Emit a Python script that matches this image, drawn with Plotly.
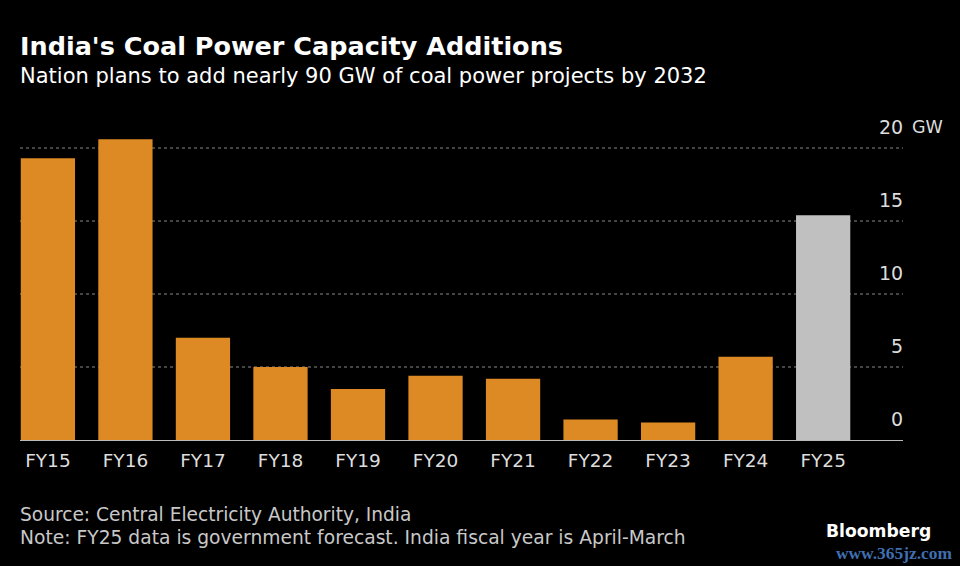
import plotly.graph_objects as go

categories = ["FY15","FY16","FY17","FY18","FY19","FY20","FY21","FY22","FY23","FY24","FY25"]
values = [19.3,20.6,7.0,5.0,3.5,4.4,4.2,1.4,1.2,5.7,15.4]
colors = ["#DD8A24"]*10 + ["#C0C0C0"]
ticks = [0,5,10,15,20]
ticktext = ["0","5","10","15","20"]
font = "DejaVu Sans"
L, R, T, B = 20, 57, 127, 126

fig = go.Figure(go.Bar(x=categories, y=values, marker_color=colors, marker_line_width=0, width=0.7))
fig.update_layout(
    width=960, height=566, paper_bgcolor="#000", plot_bgcolor="#000",
    margin=dict(l=L, r=R, t=T, b=B, autoexpand=False), showlegend=False,
    font=dict(family=font, color="#DDDDDD", size=18),
)
fig.update_xaxes(showgrid=False, showline=True, linecolor="#BBBBBB", linewidth=1, ticks="",
                 tickfont=dict(size=18.5, color="#DDDDDD"), range=[-0.36, 11.03], ticklabelstandoff=4)
fig.update_yaxes(range=[0, 21.44], showgrid=False, zeroline=False, showticklabels=False)
for t, tt in zip(ticks, ticktext):
    if t > 0:
        fig.add_shape(type="line", xref="paper", x0=0, x1=1, yref="y", y0=t, y1=t,
                      line=dict(color="#8A8A8A", width=1, dash="dot"), layer="below")
    fig.add_annotation(xref="paper", x=1, yref="y", y=t, yshift=21, text=tt, showarrow=False,
                       xanchor="right", xshift=2, font=dict(size=19, color="#DDDDDD"))
H = 566-T-B; W = 960-L-R
def px(x, y):
    return (x-L)/W, (566-B-y)/H
def label(x, y, text, size, color="#FFFFFF", bold=False, family=font):
    a, b = px(x, y)
    fig.add_annotation(xref="paper", yref="paper", x=a, y=b, xanchor="left", yanchor="middle", showarrow=False,
                       xshift=-2, text=f"<b>{text}</b>" if bold else text, font=dict(size=size, color=color, family=family))
label(912, 127, "GW", 17.5, "#DDDDDD")
label(20, 46, "India's Coal Power Capacity Additions", 25.5, bold=True)
label(20, 76, "Nation plans to add nearly 90 GW of coal power projects by 2032", 21)
label(20, 514, "Source: Central Electricity Authority, India", 18.6, "#C8C8C8")
label(20, 537, "Note: FY25 data is government forecast. India fiscal year is April-March", 18.7, "#C8C8C8")
label(826, 531, "Bloomberg", 17.2, bold=True)
label(836, 552.5, "www.365jz.com", 17.4, "#3F6FB0", bold=True, family="Liberation Serif")
fig.write_html("out.html", config={"displayModeBar": False},
               post_script="document.body.style.margin='0';document.body.style.background='#000';document.documentElement.style.overflow='hidden';")
